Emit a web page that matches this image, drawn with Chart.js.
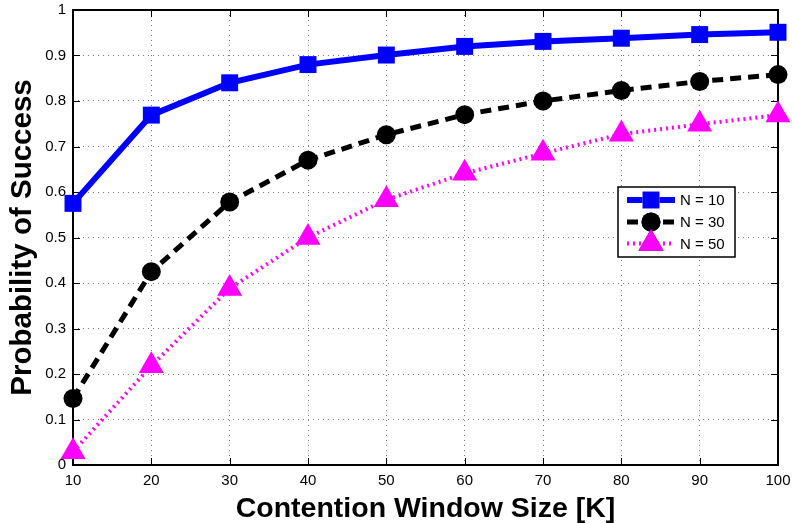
<!DOCTYPE html>
<html><head><meta charset="utf-8">
<script src="https://cdn.jsdelivr.net/npm/chart.js@4"></script>
<style>html,body{margin:0;padding:0;background:#fff}#wrap{width:792px;height:523px}</style>
</head><body><div id="wrap"><canvas id="c" width="792" height="523"></canvas></div>
<script>
const windowSizes = [10, 20, 30, 40, 50, 60, 70, 80, 90, 100];
const successN10 = [0.575, 0.769, 0.840, 0.880, 0.901, 0.920, 0.931, 0.938, 0.946, 0.951];
const successN30 = [0.146, 0.425, 0.578, 0.670, 0.726, 0.770, 0.800, 0.823, 0.843, 0.858];
const successN50 = [0.029, 0.218, 0.388, 0.500, 0.583, 0.641, 0.685, 0.727, 0.749, 0.769];
const seriesLabels = ['N = 10', 'N = 30', 'N = 50'];
const yTicks = [0, 0.1, 0.2, 0.3, 0.4, 0.5, 0.6, 0.7, 0.8, 0.9, 1];

const FONT = '"Liberation Sans", Arial, Helvetica, sans-serif';

const boxPlugin = {
  id: 'boxPlugin',
  beforeDatasetsDraw(chart) {
    const {ctx, chartArea: a} = chart;
    ctx.save();
    ctx.strokeStyle = '#000'; ctx.lineWidth = 1;
    const xs = chart.scales.x, ys = chart.scales.y;
    windowSizes.forEach(v => {
      const px = Math.round(xs.getPixelForValue(v)) + 0.5;
      ctx.beginPath(); ctx.moveTo(px, a.bottom); ctx.lineTo(px, a.bottom - 7); ctx.stroke();
      ctx.beginPath(); ctx.moveTo(px, a.top); ctx.lineTo(px, a.top + 7); ctx.stroke();
    });
    yTicks.forEach(v => {
      const py = Math.round(ys.getPixelForValue(v)) + 0.5;
      ctx.beginPath(); ctx.moveTo(a.left, py); ctx.lineTo(a.left + 7, py); ctx.stroke();
      ctx.beginPath(); ctx.moveTo(a.right, py); ctx.lineTo(a.right - 7, py); ctx.stroke();
    });
    ctx.lineWidth = 2;
    ctx.strokeRect(a.left, a.top, a.right - a.left, a.bottom - a.top);
    ctx.restore();
  },
  afterDraw(chart) {
    const ctx = chart.ctx;
    ctx.save();
    const lx = 618, ly = 187, lw = 117, lh = 70;
    ctx.fillStyle = '#fff';
    ctx.fillRect(lx, ly, lw, lh);
    ctx.lineWidth = 1.5; ctx.strokeStyle = '#000';
    ctx.strokeRect(lx, ly, lw, lh);
    const rows = [200, 222, 243.5];
    chart.data.datasets.forEach((ds, i) => {
      const y = rows[i];
      ctx.save();
      ctx.strokeStyle = ds.borderColor;
      ctx.lineWidth = ds.borderWidth;
      ctx.setLineDash(ds.borderDash || []);
      ctx.beginPath(); ctx.moveTo(627, y); ctx.lineTo(675, y); ctx.stroke();
      ctx.setLineDash([]);
      Chart.helpers.drawPoint(ctx, {
        pointStyle: ds.pointStyle, radius: ds.pointRadius, borderWidth: 0, rotation: 0
      }, 651, y);
      ctx.fillStyle = ds.pointBackgroundColor;
      ctx.fill();
      ctx.restore();
      ctx.fillStyle = '#000';
      ctx.font = '15px ' + FONT;
      ctx.textBaseline = 'middle';
      ctx.textAlign = 'left';
      ctx.fillText(ds.label, 680, y + 1);
    });
    ctx.restore();
  }
};

new Chart(document.getElementById('c'), {
  type: 'line',
  data: {
    datasets: [
      { label: seriesLabels[0], data: windowSizes.map((x, i) => ({x, y: successN10[i]})),
        borderColor: '#0000ff', backgroundColor: '#0000ff', borderWidth: 6, clip: false,
        pointStyle: 'rect', pointRadius: 12, pointBackgroundColor: '#0000ff', pointBorderWidth: 0 },
      { label: seriesLabels[1], data: windowSizes.map((x, i) => ({x, y: successN30[i]})),
        borderColor: '#000000', backgroundColor: '#000000', borderWidth: 5, borderDash: [11, 7], clip: false,
        pointStyle: 'circle', pointRadius: 9.5, pointBackgroundColor: '#000000', pointBorderWidth: 0 },
      { label: seriesLabels[2], data: windowSizes.map((x, i) => ({x, y: successN50[i]})),
        borderColor: '#ff00ff', backgroundColor: '#ff00ff', borderWidth: 4, borderDash: [2, 4], clip: false,
        pointStyle: 'triangle', pointRadius: 14.5, pointBackgroundColor: '#ff00ff', pointBorderWidth: 0 }
    ]
  },
  options: {
    responsive: false, animation: false,
    layout: { autoPadding: false, padding: { top: 10, right: 14, left: 0, bottom: 0 } },
    plugins: { legend: { display: false }, tooltip: { enabled: false } },
    elements: { line: { tension: 0 } },
    scales: {
      x: {
        type: 'linear', min: 10, max: 100,
        afterBuildTicks: s => { s.ticks = windowSizes.map(v => ({value: v})); },
        afterFit: s => { s.height = 58; s.paddingLeft = 0; s.paddingRight = 0; },
        grid: { color: '#777', drawTicks: false, lineWidth: 1 },
        border: { display: false, dash: [1, 4] },
        ticks: { color: '#000', font: { family: FONT, size: 15 }, padding: 7, maxRotation: 0 },
        title: { display: true, text: 'Contention Window Size [K]', color: '#000',
                 font: { family: FONT, size: 28.5, weight: 'bold' }, padding: { top: 0, bottom: -3 } }
      },
      y: {
        type: 'linear', min: 0, max: 1,
        afterBuildTicks: s => { s.ticks = yTicks.map(v => ({value: v})); },
        afterFit: s => { s.width = 73; s.paddingTop = 0; s.paddingBottom = 0; },
        grid: { color: '#777', drawTicks: false, lineWidth: 1 },
        border: { display: false, dash: [1, 4] },
        ticks: { color: '#000', font: { family: FONT, size: 15 }, padding: 7,
                 callback: v => String(v) },
        title: { display: true, text: 'Probability of Success', color: '#000',
                 font: { family: FONT, size: 29.5, weight: 'bold' }, padding: { top: 5, bottom: 0 } }
      }
    }
  },
  plugins: [boxPlugin]
});
</script></body></html>
